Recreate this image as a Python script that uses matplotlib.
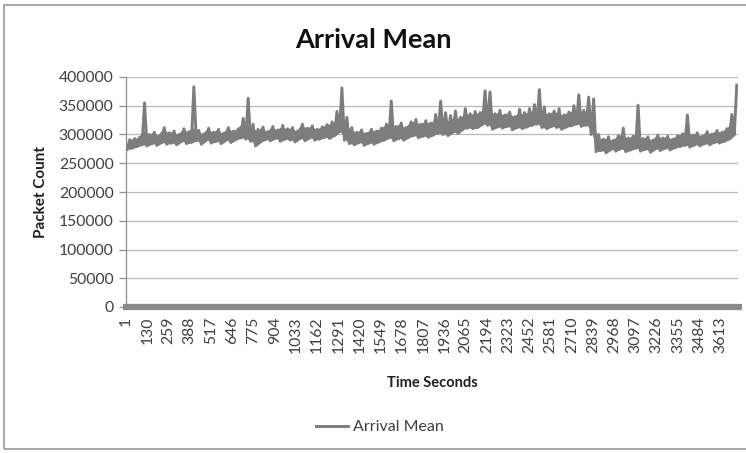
import numpy as np
import matplotlib.pyplot as plt
from matplotlib.patches import Rectangle

plt.rcParams['font.family'] = ['Lato', 'DejaVu Sans']

n_seconds = 3720
bin_width = 30

# upper edge of the band per 30 s bin, thousands of packets
arrival_hi = [
    291, 293, 295, 355, 300, 304, 298, 312, 303, 306,
    300, 310, 305, 383, 307, 301, 311, 304, 309, 302,
    312, 306, 310, 328, 363, 318, 309, 313, 305, 314,
    308, 316, 310, 312, 306, 318, 311, 315, 309, 313,
    317, 322, 340, 381, 330, 312, 304, 308, 302, 309,
    306, 311, 318, 358, 314, 320, 312, 322, 326, 318,
    324, 320, 335, 358, 338, 333, 341, 330, 345, 336,
    340, 338, 376, 374, 336, 342, 334, 339, 331, 344,
    338, 345, 352, 378, 348, 336, 341, 345, 334, 339,
    350, 369, 342, 365, 362, 300, 292, 296, 290, 298,
    311, 294, 297, 351, 293, 296, 290, 299, 294, 297,
    292, 298, 301, 334, 299, 303, 297, 305, 301, 307,
    304, 310, 335, 386,
]

# lower edge of the band per 30 s bin, thousands of packets
arrival_lo = [
    274, 276, 279, 282, 280, 284, 281, 286, 283, 285,
    282, 288, 284, 286, 289, 283, 290, 285, 288, 284,
    290, 286, 291, 294, 292, 288, 280, 287, 291, 289,
    293, 288, 292, 290, 287, 293, 289, 294, 290, 292,
    295, 293, 298, 305, 290, 284, 282, 286, 281, 285,
    283, 287, 290, 294, 289, 293, 290, 295, 298, 294,
    297, 295, 299, 302, 300, 298, 304, 302, 309, 311,
    310, 312, 318, 316, 309, 313, 311, 314, 308, 312,
    310, 313, 316, 318, 312, 310, 314, 312, 309, 313,
    315, 318, 314, 316, 300, 270, 272, 268, 274, 271,
    275, 270, 273, 276, 271, 274, 269, 275, 272, 276,
    273, 277, 279, 281, 278, 282, 280, 284, 282, 286,
    285, 288, 292, 300,
]

tick_labels = [1, 130, 259, 388, 517, 646, 775, 904, 1033, 1162, 1291, 1420,
               1549, 1678, 1807, 1936, 2065, 2194, 2323, 2452, 2581, 2710,
               2839, 2968, 3097, 3226, 3355, 3484, 3613]
y_ticks = [0, 50000, 100000, 150000, 200000, 250000, 300000, 350000, 400000]

hi = np.array(arrival_hi) * 1000
lo = np.array(arrival_lo) * 1000

# interleave low/high samples so the line zigzags into a dense band
starts = np.arange(len(hi)) * bin_width
t = np.empty(2 * len(starts))
t[0::2] = starts + 8
t[1::2] = starts + 23
vals = np.empty(2 * len(starts))
vals[0::2] = lo
vals[1::2] = hi

W, H = 746, 453
fig = plt.figure(figsize=(W / 100, H / 100), dpi=100)
ax = fig.add_axes([126 / W, 1 - 307 / H, (738 - 126) / W, (307 - 77) / H])

grey_text = '#404040'
line_col = '#7d7d7d'

for y in y_ticks[1:]:
    ax.axhline(y, color='#b8b8b8', lw=0.9, zorder=1)

# solid body of the noisy band; spikes are left to the line itself
band_top = np.minimum(hi, lo + 26000)
ax.fill_between(starts + 15, lo, band_top, color=line_col, lw=0, zorder=2)
ax.plot(t, vals, color=line_col, lw=2.1, zorder=3, label='Arrival Mean')

# thick zero line along the category axis
ax.plot([-20, n_seconds + 25], [0, 0], color='#8a8a8a', lw=4.5,
        solid_capstyle='butt', zorder=2, clip_on=False)

ax.set_xlim(0.5, n_seconds + 0.5)
ax.set_ylim(0, 400000)
ax.set_yticks(y_ticks)
ax.set_yticklabels([str(v) for v in y_ticks], fontsize=11.3, color=grey_text)
ax.set_xticks(tick_labels)
ax.set_xticklabels([str(v) for v in tick_labels], rotation=90, fontsize=11.3,
                   color=grey_text)
ax.tick_params(axis='x', length=0, pad=7)
ax.tick_params(axis='y', length=5, width=0.9, color='#909090', pad=4)

for side in ['top', 'right', 'bottom']:
    ax.spines[side].set_visible(False)
ax.spines['left'].set_color('#909090')
ax.spines['left'].set_linewidth(0.9)

ax.set_ylabel('Packet Count', fontsize=11, fontweight='bold', color='#202020',
              labelpad=8)
ax.set_xlabel('Time Seconds', fontsize=10.5, fontweight='bold', color='#202020',
              labelpad=16)
fig.text(0.5, 1 - 40 / H, 'Arrival Mean', ha='center', va='center',
         fontsize=19.5, fontweight='bold', color='#111111')

fig.legend(loc='center', bbox_to_anchor=(380 / W, 1 - 427 / H), frameon=False,
           fontsize=11.5, handlelength=2.0, handletextpad=0.3,
           labelcolor=grey_text)

fig.patches.append(Rectangle((4 / W, 1 - 449 / H), 1.2, (449 - 5) / H,
                             transform=fig.transFigure, fill=False,
                             ec='#9a9a9a', lw=1.2))

fig.savefig('out.png', dpi=100)
